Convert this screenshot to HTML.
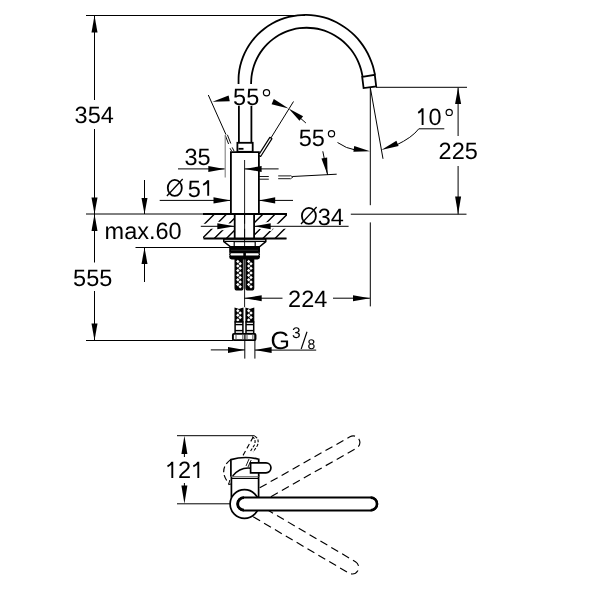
<!DOCTYPE html>
<html><head><meta charset="utf-8"><style>
html,body{margin:0;padding:0;background:#fff;width:600px;height:600px;overflow:hidden}
svg{position:absolute;left:0;top:0;will-change:transform}
text{font-family:"Liberation Sans",sans-serif;fill:#000;stroke:none;text-rendering:geometricPrecision}
</style></head><body>
<svg width="600" height="600" viewBox="0 0 600 600" stroke="#000" fill="none">
<line x1="86" y1="15.5" x2="305" y2="15.5" stroke-width="1.0" />
<line x1="86" y1="214" x2="204" y2="214" stroke-width="1.0" />
<line x1="86" y1="340.5" x2="233" y2="340.5" stroke-width="1.0" />
<line x1="94.5" y1="15.5" x2="94.5" y2="100" stroke-width="1.0" />
<line x1="94.5" y1="129" x2="94.5" y2="214" stroke-width="1.0" />
<polygon points="94.5,15.5 91.5,32.5 97.5,32.5" fill="#000" stroke="none" />
<polygon points="94.5,214 97.5,197.5 91.5,197.5" fill="#000" stroke="none" />
<text transform="translate(74.6 123.4) scale(1 1.0)" font-size="23.5" text-anchor="start" >354</text>
<line x1="94.5" y1="214" x2="94.5" y2="262.5" stroke-width="1.0" />
<line x1="94.5" y1="291" x2="94.5" y2="340.5" stroke-width="1.0" />
<polygon points="94.5,214 91.5,231 97.5,231" fill="#000" stroke="none" />
<polygon points="94.5,340.5 97.5,323.5 91.5,323.5" fill="#000" stroke="none" />
<text transform="translate(73.1 286.4) scale(1 1.0)" font-size="23.5" text-anchor="start" >555</text>
<line x1="144.5" y1="180" x2="144.5" y2="214" stroke-width="1.0" />
<polygon points="144.5,214 147.5,198 141.5,198" fill="#000" stroke="none" />
<line x1="135.5" y1="247.5" x2="230" y2="247.5" stroke-width="1.0" />
<line x1="144.5" y1="247.5" x2="144.5" y2="282" stroke-width="1.0" />
<polygon points="144.5,247.5 141.5,264 147.5,264" fill="#000" stroke="none" />
<text transform="translate(104.6 239.4) scale(1 1.0)" font-size="23.5" text-anchor="start" >max.60</text>
<path d="M 238.54 84 C 238.57 82.48 238.45 77.89 238.73 74.86 C 239.01 71.83 239.51 68.79 240.21 65.83 C 240.91 62.87 241.84 59.94 242.94 57.11 C 244.04 54.28 245.36 51.5 246.84 48.86 C 248.32 46.22 250.01 43.66 251.84 41.25 C 253.67 38.84 255.68 36.55 257.81 34.42 C 259.94 32.29 262.25 30.29 264.64 28.48 C 267.03 26.67 269.57 25.01 272.18 23.54 C 274.79 22.07 277.52 20.77 280.29 19.67 C 283.06 18.57 285.94 17.65 288.82 16.92 C 291.7 16.2 294.65 15.66 297.6 15.32 C 300.55 14.98 303.54 14.84 306.5 14.89 C 309.46 14.94 312.43 15.19 315.35 15.62 C 318.27 16.05 321.18 16.68 324.02 17.48 C 326.86 18.28 329.66 19.27 332.37 20.43 C 335.08 21.59 337.74 22.93 340.28 24.42 C 342.82 25.91 345.29 27.58 347.63 29.38 C 349.97 31.18 352.22 33.14 354.33 35.23 C 356.44 37.31 358.43 39.55 360.27 41.89 C 362.11 44.23 363.83 46.71 365.38 49.27 C 366.93 51.84 368.33 54.52 369.57 57.28 C 370.81 60.04 371.89 62.9 372.79 65.82 C 373.69 68.74 374.62 73.29 374.98 74.78" stroke-width="1.8" fill="none" />
<path d="M 251.08 84.01 C 251.15 82.76 251.2 78.98 251.51 76.51 C 251.82 74.04 252.3 71.57 252.93 69.17 C 253.56 66.77 254.35 64.41 255.29 62.13 C 256.23 59.85 257.32 57.62 258.55 55.5 C 259.78 53.38 261.15 51.33 262.64 49.39 C 264.13 47.45 265.76 45.61 267.48 43.89 C 269.2 42.17 271.05 40.57 272.98 39.1 C 274.91 37.63 276.95 36.28 279.04 35.08 C 281.13 33.88 283.32 32.8 285.55 31.89 C 287.78 30.98 290.08 30.21 292.41 29.6 C 294.74 28.99 297.12 28.52 299.51 28.21 C 301.89 27.9 304.32 27.75 306.72 27.76 C 309.12 27.77 311.54 27.93 313.92 28.25 C 316.3 28.57 318.69 29.05 321.01 29.67 C 323.33 30.3 325.64 31.08 327.87 32 C 330.1 32.92 332.3 34 334.4 35.2 C 336.5 36.41 338.54 37.76 340.47 39.23 C 342.41 40.7 344.27 42.31 346.01 44.03 C 347.75 45.75 349.4 47.59 350.91 49.53 C 352.42 51.47 353.83 53.53 355.09 55.66 C 356.35 57.79 357.49 60.02 358.48 62.32 C 359.47 64.62 360.32 67.01 361.01 69.43 C 361.7 71.86 362.36 75.63 362.63 76.87" stroke-width="1.8" fill="none" />
<path d="M 362.2 76.9 L 374.8 74.8 L 376.2 86.4 L 363.6 88.1 Z" stroke-width="1.8" fill="none" stroke-linejoin="miter"/>
<line x1="238.9" y1="105.8" x2="238.9" y2="142.7" stroke-width="1.8" />
<line x1="251.4" y1="105.8" x2="251.4" y2="142.7" stroke-width="1.8" />
<rect x="237.4" y="142.8" width="15.3" height="9" stroke-width="1.8" fill="none" />
<line x1="238.5" y1="148.8" x2="243.5" y2="148.8" stroke-width="1.8" />
<path d="M 230.9 214 L 230.9 152.2 L 258.9 152.2 L 258.9 214" stroke-width="1.8" fill="none" />
<line x1="244.6" y1="160" x2="244.6" y2="307.2" stroke-width="0.9" />
<text transform="translate(233.1 104.9) scale(1 1.0)" font-size="23.5" text-anchor="start" >55</text>
<circle cx="266.5" cy="92.8" r="3.1" stroke-width="1.2" fill="none"/>
<line x1="208.3" y1="95" x2="226" y2="134.7" stroke-width="1.0" />
<path d="M 225.3 135.4 L 228.6 144.0 M 227.4 134.8 L 230.8 143.5" stroke-width="0.95" fill="none" />
<path d="M 230.0 148.2 L 231.6 151.0 M 232.2 147.4 L 234.0 151.0" stroke-width="0.95" fill="none" />
<polygon points="212.5,101.7 229.78,101.14 228.62,95.46" fill="#000" stroke="none" />
<line x1="225.2" y1="135.3" x2="225.2" y2="177.6" stroke-width="1.1" stroke="#808080"/>
<text transform="translate(184.4 165) scale(1 1.0)" font-size="23.5" text-anchor="start" >35</text>
<line x1="178" y1="168.9" x2="224.6" y2="168.9" stroke-width="1.0" />
<polygon points="224.6,168.9 208.3,165.9 208.3,171.9" fill="#000" stroke="none" />
<line x1="244.6" y1="168.9" x2="278.6" y2="168.9" stroke-width="1.0" />
<polygon points="244.6,168.9 261.6,171.9 261.6,165.9" fill="#000" stroke="none" />
<path d="M 260.66 156.47 L 271.96 138.67 L 269.84 137.33 L 258.54 155.13 Z" fill="#fff" stroke="#000" stroke-width="1.2" stroke-linejoin="round"/>
<line x1="270.9" y1="138" x2="293.5" y2="101.5" stroke-width="1.0" />
<polygon points="288.6,108.5 273.84,99.03 271.56,104.37" fill="#000" stroke="none" />
<polygon points="288.6,108.5 299.49,120.87 303.11,116.33" fill="#000" stroke="none" />
<line x1="300" y1="117.8" x2="305.9" y2="123" stroke-width="1.0" />
<text transform="translate(298.8 145.9) scale(1 1.0)" font-size="23.5" text-anchor="start" >55</text>
<circle cx="331.5" cy="133.7" r="3.1" stroke-width="1.2" fill="none"/>
<line x1="322.8" y1="151.3" x2="327.6" y2="175" stroke-width="1.0" />
<polygon points="327.6,175 327.15,157.45 321.45,158.55" fill="#000" stroke="none" />
<line x1="292.5" y1="176.5" x2="336.7" y2="174.2" stroke-width="1.0" />
<path d="M 259.2 176.5 L 268.8 176.5 M 259.2 179.2 L 268.8 179.2 M 278.2 175.9 L 290.2 175.9 M 278.2 178.7 L 290.2 178.7" stroke-width="0.9" fill="none" />
<path d="M 290.2 175.5 L 293 177 L 290.2 179" stroke-width="0.8" fill="none" />
<path d="M 337.5 142.5 Q 346 148.5 356 150.2" stroke-width="1.0" fill="none" />
<polygon points="370,151.3 354.22,146.03 353.38,151.77" fill="#000" stroke="none" />
<path d="M 422.6 124.9 V 108.2 M 422.4 108.8 Q 421 111.4 418.2 112.8" stroke-width="1.9" fill="none"/>
<text transform="translate(428.6 125) scale(1 1.0)" font-size="23.5" text-anchor="start" >0</text>
<circle cx="449.2" cy="112.4" r="3.1" stroke-width="1.2" fill="none"/>
<line x1="418.8" y1="128.8" x2="444.3" y2="128.8" stroke-width="1.0" />
<path d="M 418.8 128.8 Q 412.1 137.6 396 145.2" stroke-width="1.0" fill="none" />
<polygon points="381.3,150 398.59,146.09 396.41,140.71" fill="#000" stroke="none" />
<line x1="370.3" y1="87.6" x2="383" y2="158.8" stroke-width="1.0" />
<line x1="370.3" y1="87.6" x2="370.3" y2="205.2" stroke-width="1.0" />
<line x1="370.3" y1="222.4" x2="370.3" y2="306.4" stroke-width="1.0" />
<line x1="376" y1="87.3" x2="467" y2="87.3" stroke-width="1.0" />
<line x1="458.1" y1="87.6" x2="458.1" y2="136" stroke-width="1.0" />
<line x1="458.1" y1="166" x2="458.1" y2="214.3" stroke-width="1.0" />
<polygon points="458.1,87.6 455.1,104 461.1,104" fill="#000" stroke="none" />
<polygon points="458.1,214.3 461.1,196.5 455.1,196.5" fill="#000" stroke="none" />
<text transform="translate(438.6 159.3) scale(1 1.0)" font-size="23.5" text-anchor="start" >225</text>
<line x1="350.8" y1="214.2" x2="466.5" y2="214.2" stroke-width="1.0" />
<ellipse cx="174.8" cy="187.9" rx="7.0" ry="8.0" stroke-width="1.8" fill="none"/>
<line x1="166.9" y1="196" x2="182.7" y2="179" stroke-width="1.25" />
<text transform="translate(187.8 196.7) scale(1 1.0)" font-size="23.5" text-anchor="start" >5</text>
<path d="M 208.2 195.8 V 180.2 M 208 180.8 Q 206.6 183.4 203.1 184.8" stroke-width="1.9" fill="none"/>
<line x1="159.7" y1="200.4" x2="230.9" y2="200.4" stroke-width="1.0" />
<polygon points="230.9,200.4 213.5,197.3 213.5,203.5" fill="#000" stroke="none" />
<line x1="258.9" y1="200.4" x2="293" y2="200.4" stroke-width="1.0" />
<polygon points="258.9,200.4 275.2,203.5 275.2,197.3" fill="#000" stroke="none" />
<clipPath id="ct"><path d="M 203 214 H 234.7 V 238.8 H 203 Z M 254.1 214 H 287 V 238.8 H 254.1 Z"/></clipPath>
<g clip-path="url(#ct)"><path d="M 189.7 238.8 L 214.5 214 M 201.85 238.8 L 226.65 214 M 214 238.8 L 238.8 214 M 226.15 238.8 L 250.95 214 M 238.3 238.8 L 263.1 214 M 250.45 238.8 L 275.25 214 M 262.6 238.8 L 287.4 214 M 274.75 238.8 L 299.55 214 M 286.9 238.8 L 311.7 214" stroke-width="1.4" fill="none"/></g>
<line x1="200.8" y1="226.3" x2="348.6" y2="226.3" stroke-width="5" stroke="#fff"/>
<polygon points="234.7,226.3 217.3,223.3 217.3,229.3" fill="#fff" stroke="#fff" stroke-width="3.5" stroke-linejoin="round"/>
<polygon points="254.1,226.3 270.7,229.3 270.7,223.3" fill="#fff" stroke="#fff" stroke-width="3.5" stroke-linejoin="round"/>
<line x1="200.8" y1="226.3" x2="234.7" y2="226.3" stroke-width="1.0" />
<polygon points="234.7,226.3 217.3,223.3 217.3,229.3" fill="#000" stroke="none" />
<line x1="254.1" y1="226.3" x2="348.6" y2="226.3" stroke-width="1.0" />
<polygon points="254.1,226.3 270.7,229.3 270.7,223.3" fill="#000" stroke="none" />
<line x1="203" y1="214" x2="287" y2="214" stroke-width="2.0" />
<line x1="203.5" y1="238.6" x2="286.5" y2="238.6" stroke-width="2.0" />
<line x1="234.7" y1="214" x2="234.7" y2="238.6" stroke-width="1.8" />
<line x1="254.1" y1="214" x2="254.1" y2="238.6" stroke-width="1.8" />
<line x1="244.6" y1="214" x2="244.6" y2="240" stroke-width="0.9" />
<ellipse cx="308.9" cy="215.9" rx="7.0" ry="8.0" stroke-width="1.8" fill="none"/>
<line x1="301" y1="224" x2="316.6" y2="207" stroke-width="1.25" />
<text transform="translate(317.8 225.2) scale(1 1.0)" font-size="23.5" text-anchor="start" >34</text>
<path d="M 223.8 239 L 265.8 239 L 265.8 241.6 L 259.5 246.8 L 230.5 246.8 L 223.8 241.6 Z" stroke-width="1.5" fill="none" fill="#fff" stroke-linejoin="miter"/>
<line x1="224.5" y1="241.4" x2="265" y2="241.4" stroke-width="1.2" />
<rect x="234.2" y="241.6" width="21" height="5" stroke-width="1.2" fill="#fff" />
<line x1="244.6" y1="241.6" x2="244.6" y2="246.6" stroke-width="0.9" />
<rect x="229.2" y="246.3" width="30.8" height="6.5" fill="#000" stroke="none"/>
<line x1="231" y1="250.3" x2="258" y2="250.3" stroke-width="0.5" stroke="#555"/>
<rect x="229.8" y="252.6" width="29.6" height="3.6" rx="1.6" fill="#fff" stroke="#000" stroke-width="1.3"/>
<path d="M 229.2 256 H 260 V 257 Q 260 259.4 257.5 259.4 H 231.7 Q 229.2 259.4 229.2 257 Z" fill="#000" stroke="none"/>
<rect x="243.3" y="252.8" width="2.6" height="3.4" fill="#000" stroke="none"/>
<path d="M 235.1 259 V 288 Q 235.1 290 237.1 290 H 240.9 Q 242.9 290 242.9 288 V 259 Z" fill="#000" stroke="#000" stroke-width="1.2"/>
<path d="M 237.83 259.65 L 239.58 261.4 L 237.83 263.15 L 236.08 261.4 Z M 240.17 261.95 L 241.92 263.7 L 240.17 265.45 L 238.42 263.7 Z M 237.83 264.25 L 239.58 266 L 237.83 267.75 L 236.08 266 Z M 240.17 266.55 L 241.92 268.3 L 240.17 270.05 L 238.42 268.3 Z M 237.83 268.85 L 239.58 270.6 L 237.83 272.35 L 236.08 270.6 Z M 240.17 271.15 L 241.92 272.9 L 240.17 274.65 L 238.42 272.9 Z M 237.83 273.45 L 239.58 275.2 L 237.83 276.95 L 236.08 275.2 Z M 240.17 275.75 L 241.92 277.5 L 240.17 279.25 L 238.42 277.5 Z M 237.83 278.05 L 239.58 279.8 L 237.83 281.55 L 236.08 279.8 Z M 240.17 280.35 L 241.92 282.1 L 240.17 283.85 L 238.42 282.1 Z M 237.83 282.65 L 239.58 284.4 L 237.83 286.15 L 236.08 284.4 Z M 240.17 284.95 L 241.92 286.7 L 240.17 288.45 L 238.42 286.7 Z" fill="#fff" stroke="none"/>
<path d="M 235.1 308.3 L 239 309.6 L 242.9 308.3 V 322 H 235.1 Z" fill="#000" stroke="#000" stroke-width="1.2"/>
<path d="M 237.83 308.95 L 239.58 310.7 L 237.83 312.45 L 236.08 310.7 Z M 240.17 311.25 L 241.92 313 L 240.17 314.75 L 238.42 313 Z M 237.83 313.55 L 239.58 315.3 L 237.83 317.05 L 236.08 315.3 Z M 240.17 315.85 L 241.92 317.6 L 240.17 319.35 L 238.42 317.6 Z M 237.83 318.15 L 239.58 319.9 L 237.83 321.65 L 236.08 319.9 Z" fill="#fff" stroke="none"/>
<rect x="235.1" y="322" width="7.8" height="11.6" fill="#fff" stroke="#000" stroke-width="1.5"/>
<line x1="235.1" y1="324.6" x2="242.9" y2="324.6" stroke-width="1.4" />
<line x1="235.1" y1="330.6" x2="242.9" y2="330.6" stroke-width="1.4" />
<path d="M 246 259 V 288 Q 246 290 248 290 H 251.7 Q 253.7 290 253.7 288 V 259 Z" fill="#000" stroke="#000" stroke-width="1.2"/>
<path d="M 248.69 259.65 L 250.44 261.4 L 248.69 263.15 L 246.94 261.4 Z M 251 261.95 L 252.75 263.7 L 251 265.45 L 249.25 263.7 Z M 248.69 264.25 L 250.44 266 L 248.69 267.75 L 246.94 266 Z M 251 266.55 L 252.75 268.3 L 251 270.05 L 249.25 268.3 Z M 248.69 268.85 L 250.44 270.6 L 248.69 272.35 L 246.94 270.6 Z M 251 271.15 L 252.75 272.9 L 251 274.65 L 249.25 272.9 Z M 248.69 273.45 L 250.44 275.2 L 248.69 276.95 L 246.94 275.2 Z M 251 275.75 L 252.75 277.5 L 251 279.25 L 249.25 277.5 Z M 248.69 278.05 L 250.44 279.8 L 248.69 281.55 L 246.94 279.8 Z M 251 280.35 L 252.75 282.1 L 251 283.85 L 249.25 282.1 Z M 248.69 282.65 L 250.44 284.4 L 248.69 286.15 L 246.94 284.4 Z M 251 284.95 L 252.75 286.7 L 251 288.45 L 249.25 286.7 Z" fill="#fff" stroke="none"/>
<path d="M 246 308.3 L 249.85 309.6 L 253.7 308.3 V 322 H 246 Z" fill="#000" stroke="#000" stroke-width="1.2"/>
<path d="M 248.69 308.95 L 250.44 310.7 L 248.69 312.45 L 246.94 310.7 Z M 251 311.25 L 252.75 313 L 251 314.75 L 249.25 313 Z M 248.69 313.55 L 250.44 315.3 L 248.69 317.05 L 246.94 315.3 Z M 251 315.85 L 252.75 317.6 L 251 319.35 L 249.25 317.6 Z M 248.69 318.15 L 250.44 319.9 L 248.69 321.65 L 246.94 319.9 Z" fill="#fff" stroke="none"/>
<rect x="246" y="322" width="7.7" height="11.6" fill="#fff" stroke="#000" stroke-width="1.5"/>
<line x1="246" y1="324.6" x2="253.7" y2="324.6" stroke-width="1.4" />
<line x1="246" y1="330.6" x2="253.7" y2="330.6" stroke-width="1.4" />
<rect x="232.9" y="333.9" width="22.6" height="6.2" rx="1" fill="#fff" stroke="#000" stroke-width="1.9"/>
<line x1="236" y1="334.8" x2="236" y2="339.2" stroke-width="1.3" stroke="#777"/>
<line x1="242.8" y1="334.8" x2="242.8" y2="339.2" stroke-width="1.3" stroke="#777"/>
<line x1="247" y1="334.8" x2="247" y2="339.2" stroke-width="1.3" stroke="#777"/>
<line x1="252.8" y1="334.8" x2="252.8" y2="339.2" stroke-width="1.3" stroke="#777"/>
<line x1="244.9" y1="334.6" x2="244.9" y2="339.4" stroke-width="1.3" />
<line x1="244.4" y1="289" x2="244.4" y2="308.3" stroke-width="0" />
<line x1="244.8" y1="340" x2="244.8" y2="358.6" stroke-width="1.0" />
<line x1="254.9" y1="333.5" x2="254.9" y2="358.6" stroke-width="1.0" />
<line x1="210.8" y1="349.9" x2="244.8" y2="349.9" stroke-width="1.0" />
<polygon points="244.8,349.9 228,346.9 228,352.9" fill="#000" stroke="none" />
<line x1="254.9" y1="350.1" x2="316.2" y2="350.1" stroke-width="1.0" />
<polygon points="254.9,350.1 271.6,353.1 271.6,347.1" fill="#000" stroke="none" />
<text transform="translate(270.6 348.7) scale(1 1.0)" font-size="25" text-anchor="start" >G</text>
<text transform="translate(292 337.9) scale(1 1.0)" font-size="15.5" text-anchor="start" >3</text>
<line x1="301.2" y1="349" x2="307" y2="331.8" stroke-width="1.15" />
<text transform="translate(307.4 348.7) scale(1 1.0)" font-size="14" text-anchor="start" >8</text>
<line x1="244.4" y1="298.2" x2="282.5" y2="298.2" stroke-width="1.0" />
<polygon points="244.4,298.2 261.7,301.2 261.7,295.2" fill="#000" stroke="none" />
<line x1="333" y1="298.2" x2="369.9" y2="298.2" stroke-width="1.0" />
<polygon points="369.9,298.2 353,295.2 353,301.2" fill="#000" stroke="none" />
<text transform="translate(288.1 306.8) scale(1 1.0)" font-size="23.5" text-anchor="start" >224</text>
<line x1="177" y1="435.7" x2="254.7" y2="435.7" stroke-width="1.0" />
<line x1="177" y1="503.8" x2="230" y2="503.8" stroke-width="1.0" />
<polygon points="184.4,435.7 181.4,454 187.4,454" fill="#000" stroke="none" />
<polygon points="184.4,503.8 187.4,485.5 181.4,485.5" fill="#000" stroke="none" />
<line x1="184.4" y1="450" x2="184.4" y2="457" stroke-width="1.0" />
<line x1="184.4" y1="483" x2="184.4" y2="490" stroke-width="1.0" />
<path d="M 172.3 477.9 V 461.8 M 172.1 462.4 Q 170.7 465 167.5 466.4" stroke-width="1.9" fill="none"/>
<text transform="translate(177.9 478.4) scale(1 1.0)" font-size="23.5" text-anchor="start" >2</text>
<path d="M 198.3 477.9 V 461.8 M 198.1 462.4 Q 196.7 465 193.3 466.4" stroke-width="1.9" fill="none"/>
<path d="M 259.93 502.85 L 356.46 448.24 A 6.6 6.6 0 0 0 349.96 436.75 L 253.43 491.36" stroke-width="1.15" fill="none" stroke-dasharray="8 4.6"/>
<path d="M 253.21 516.79 L 348.77 573.08 A 6.6 6.6 0 0 0 355.47 561.7 L 259.91 505.42" stroke-width="1.15" fill="none" stroke-dasharray="8 4.6"/>
<path d="M 231.4 500 V 476.4 H 258.6 V 500 Z"  fill="#fff" stroke="none" stroke-width="1.7"/>
<line x1="231.4" y1="478.5" x2="258.6" y2="478.5" stroke-width="1.0" />
<path d="M 231.4 497.5 V 476.4 H 258.6 V 497" fill="none" stroke="#000" stroke-width="1.7"/>
<circle cx="244.5" cy="504.0" r="14.4" fill="#fff" stroke="#000" stroke-width="1.7"/>
<path d="M 244 497.4 H 370.7 A 6.5 6.5 0 0 1 370.7 510.4 H 244 A 6.5 6.5 0 0 1 244 497.4 Z" fill="#fff" stroke="#000" stroke-width="2.0"/>
<path d="M 244 497.6 A 6.3 6.3 0 0 0 244 510.2" stroke-width="2.8" fill="none" />
<path d="M 370.7 497.6 A 6.3 6.3 0 0 1 370.7 510.2" stroke-width="2.6" fill="none" />
<path d="M 230.9 476.4 V 459.6 Q 244.8 455.6 258.7 459.2 V 476.4" fill="#fff" stroke="#000" stroke-width="1.7"/>
<path d="M 232.6 476 Q 240 467 250.6 468.2 Q 253.5 469 255 472.8" stroke-width="1.4" fill="none" />
<path d="M 250.6 462.9 H 266 A 4.95 4.95 0 0 1 266 472.8 H 250.6 Z" fill="#fff" stroke="#000" stroke-width="1.7"/>
<path d="M 246 466 L 249 459 M 248 467 L 251.2 460" stroke-width="0.9" fill="none" />
<path d="M 254.7 436.2 Q 259.8 439 257.4 445.5 L 253.2 452" stroke-width="1.1" fill="none" stroke-dasharray="3 1.5"/>
<path d="M 252.2 436.6 Q 256.5 439.4 254.4 445 L 250.4 451.4" stroke-width="1.1" fill="none" stroke-dasharray="3 1.5"/>
<path d="M 253.2 437 L 241.6 458" stroke-width="1.1" fill="none" stroke-dasharray="5 3"/>
<path d="M 230.6 459.6 Q 217.5 470 229 483.5" stroke-width="1.2" fill="none" stroke-dasharray="6 3"/>
<path d="M 229.8 480 L 228.6 484.6 L 231 484" stroke-width="1.0" fill="none" />
</svg>
</body></html>
